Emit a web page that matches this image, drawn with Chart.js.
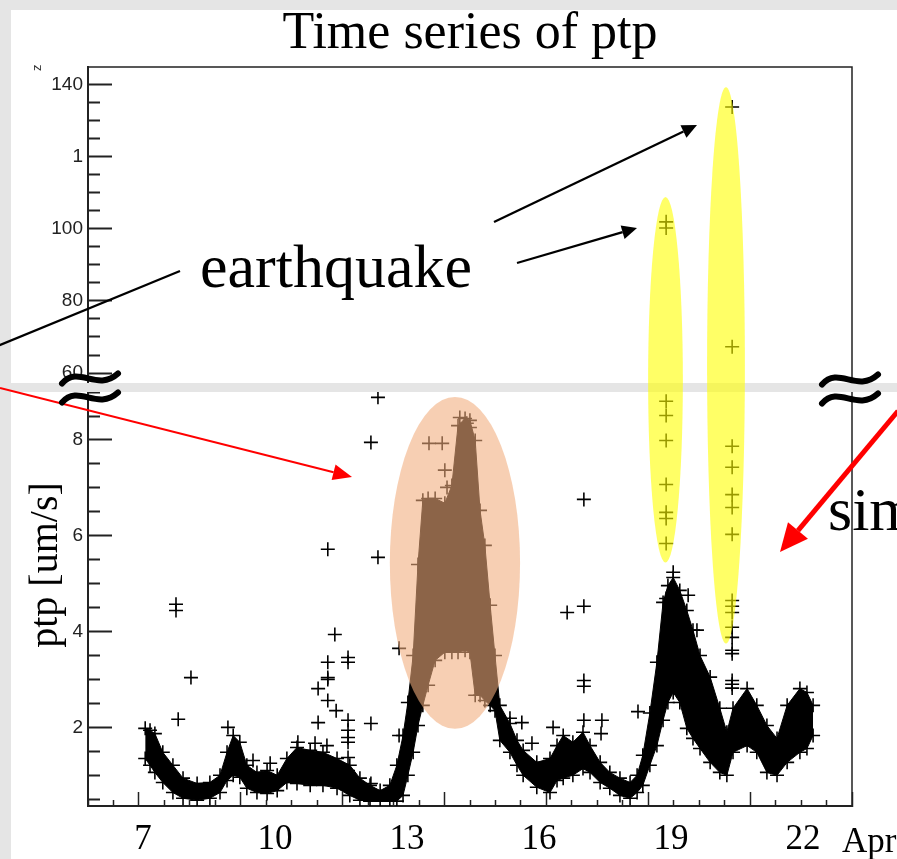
<!DOCTYPE html>
<html>
<head>
<meta charset="utf-8">
<title>Time series of ptp</title>
<script src="https://cdn.jsdelivr.net/npm/chart.js@4.4.1/dist/chart.umd.min.js"></script>
<style>
  html, body { margin: 0; padding: 0; background: #e5e5e5; }
  #wrap { position: relative; width: 897px; height: 859px; }
</style>
</head>
<body>
<div id="wrap"><canvas id="myChart" width="897" height="859"></canvas></div>
<script>
// day of April for the dense background band, with its upper and lower edge (um/s)
const bandDays = [7.05, 7.16, 7.27, 7.45, 7.68, 7.91, 8.23, 8.52, 8.75, 8.91,
  9.05, 9.20, 9.36, 9.59, 9.82, 10.05, 10.27, 10.50, 10.80, 11.09,
  11.41, 11.70, 11.93, 12.16, 12.39, 12.61, 12.77, 12.91, 13.02, 13.14,
  13.25, 13.36, 13.48, 13.64, 13.86, 14.02, 14.16, 14.32, 14.43, 14.55,
  14.66, 14.77, 14.89, 15.00, 15.11, 15.34, 15.50, 15.64, 15.95, 16.25,
  16.41, 16.55, 16.77, 17.00, 17.16, 17.39, 17.61, 17.84, 18.07, 18.23,
  18.36, 18.52, 18.68, 18.82, 18.93, 19.05, 19.20, 19.36, 19.50, 19.66,
  19.89, 20.11, 20.27, 20.41, 20.73, 20.95, 21.18, 21.41, 21.64, 21.93,
  22.09, 22.23];
const bandTop = [1.98, 1.94, 1.87, 1.48, 1.21, 0.94, 0.83, 0.85, 1.00, 1.48,
  1.83, 1.69, 1.21, 1.06, 1.10, 1.00, 1.35, 1.58, 1.52, 1.48,
  1.35, 1.21, 0.94, 0.79, 0.68, 0.79, 1.21, 1.83, 2.52, 3.50,
  5.40, 6.74, 6.78, 6.78, 6.68, 7.05, 8.30, 8.45, 8.41, 7.99,
  6.53, 5.80, 4.55, 3.50, 2.46, 2.08, 1.73, 1.52, 1.27, 1.35,
  1.62, 1.83, 1.69, 1.90, 1.62, 1.27, 1.06, 0.94, 0.85, 1.00,
  1.42, 2.30, 3.36, 4.61, 4.96, 5.13, 4.86, 4.44, 4.03, 3.50,
  3.05, 2.40, 1.90, 2.40, 2.81, 2.46, 2.04, 1.77, 2.46, 2.81,
  2.73, 2.46];
const bandBottom = [1.35, 1.21, 1.06, 0.85, 0.64, 0.52, 0.48, 0.52, 0.64, 0.89,
  1.00, 0.96, 0.73, 0.64, 0.62, 0.68, 0.85, 0.83, 0.79, 0.79,
  0.73, 0.58, 0.48, 0.46, 0.46, 0.46, 0.46, 0.58, 1.00, 1.48,
  2.04, 2.46, 2.88, 3.40, 3.57, 3.57, 3.57, 3.61, 3.57, 2.67,
  2.67, 2.56, 2.46, 2.35, 1.73, 1.48, 1.21, 1.00, 0.75, 0.64,
  0.89, 0.94, 1.00, 1.14, 1.06, 0.85, 0.73, 0.58, 0.52, 0.64,
  0.79, 1.21, 1.62, 2.15, 2.52, 2.73, 2.52, 1.98, 1.77, 1.56,
  1.27, 1.06, 1.00, 1.48, 1.62, 1.48, 1.06, 1.00, 1.27, 1.48,
  1.56, 1.83];

// isolated points above the band
const outlierDays = [7.75, 7.75, 8.09, 7.80, 8.93, 9.50, 9.89, 10.52, 10.91, 11.18,
  10.98, 10.98, 11.20, 11.20, 11.20, 11.20, 11.20, 11.36, 11.39, 11.66,
  11.66, 11.66, 11.66, 11.66, 11.66, 11.66, 11.66, 12.18, 12.34, 12.34,
  12.18, 12.18, 12.82, 12.82, 13.50, 13.80, 13.86, 13.91, 14.20, 14.36,
  14.43, 15.34, 15.61, 15.84, 16.32, 16.64, 17.02, 17.02, 17.02, 17.02,
  17.02, 17.43, 17.41, 18.25, 18.89, 19.05, 19.39, 19.59, 20.39, 20.39,
  20.39];
const outlierValues = [4.57, 4.44, 3.04, 2.17, 2.00, 1.31, 1.25, 1.69, 1.67, 1.62,
  2.81, 2.10, 5.72, 3.36, 3.00, 3.04, 2.56, 3.94, 2.35, 3.46,
  3.36, 2.15, 1.94, 1.79, 1.69, 1.37, 1.10, 7.95, 8.89, 5.55,
  2.08, 0.83, 3.65, 1.83, 7.93, 7.93, 7.37, 7.01, 8.47, 8.35,
  8.26, 2.19, 2.10, 1.67, 2.00, 4.40, 6.76, 4.53, 2.98, 2.86,
  2.15, 2.15, 1.87, 2.33, 4.69, 5.24, 4.76, 4.03, 2.98, 2.90,
  2.82];

// earthquake readings, upper (broken) part of the axis
const quakeDaysHigh = [18.89, 18.89, 20.39, 20.39];
const quakeValuesHigh = [101.9, 100.2, 133.7, 67.3];
// earthquake readings, lower part of the axis
const quakeDaysLow = [18.89, 18.89, 18.89, 18.89, 18.89, 18.89, 18.89,
  20.39, 20.39, 20.39, 20.39, 20.39, 20.39, 20.39, 20.39, 20.39, 20.39, 20.39, 20.39];
const quakeValuesLow = [8.81, 8.51, 7.99, 7.07, 6.49, 6.36, 5.84,
  7.87, 7.43, 6.86, 6.59, 6.03, 4.65, 4.53, 4.40, 4.09, 3.88, 3.61, 3.54];

// tick labels
const dayLabels = [7, 10, 13, 16, 19, 22];
const upperTickValues = [60, 80, 100, 120, 140];
const upperTickLabels = ['60', '80', '100', '1', '140'];
const lowerTickValues = [2, 4, 6, 8];
const lowerTickLabels = ['2', '4', '6', '8'];

const serif = "'Liberation Serif', 'Times New Roman', serif";
const sans = "'Liberation Sans', Arial, sans-serif";

const X_MIN = 5.75, X_MAX = 23.114;
const TOP_MIN = 56.0, TOP_MAX = 144.8;
const BOT_MIN = 0.359, BOT_MAX = 9.096;

function toPoints(xs, ys) {
  return xs.map((d, i) => ({ x: d, y: ys[i] }));
}

// ROOT style ticks: 30 small divisions, every 4th one long, plus the day labels
function xTicks() {
  const list = [];
  for (let k = 0; k <= 30; k++) {
    list.push({ value: X_MIN + k * (X_MAX - X_MIN) / 30, kind: k % 4 === 2 ? 'major' : 'minor' });
  }
  dayLabels.forEach(d => list.push({ value: d, kind: 'label' }));
  return list.sort((a, b) => a.value - b.value);
}

function yTicks(min, max, step, majorStep) {
  const list = [];
  for (let v = step; v <= max + 1e-9; v += step) {
    if (v < min) continue;
    const r = Math.round(v * 100) / 100;
    list.push({ value: r, kind: Math.abs(r / majorStep - Math.round(r / majorStep)) < 1e-6 ? 'major' : 'minor' });
  }
  return list;
}

const tickColor = c => (c.tick && c.tick.kind === 'label') ? 'rgba(0,0,0,0)' : '#222';

function arrow(ctx, x1, y1, x2, y2, color, width, head, half) {
  const a = Math.atan2(y2 - y1, x2 - x1);
  const bx = x2 - head * Math.cos(a), by = y2 - head * Math.sin(a);
  ctx.strokeStyle = color;
  ctx.fillStyle = color;
  ctx.lineWidth = width;
  ctx.beginPath();
  ctx.moveTo(x1, y1);
  ctx.lineTo(head ? bx : x2, head ? by : y2);
  ctx.stroke();
  if (head) {
    ctx.beginPath();
    ctx.moveTo(x2, y2);
    ctx.lineTo(bx + half * Math.sin(a), by - half * Math.cos(a));
    ctx.lineTo(bx - half * Math.sin(a), by + half * Math.cos(a));
    ctx.closePath();
    ctx.fill();
  }
}

function approx(ctx, x0, yc) {
  const w = 56;
  ctx.strokeStyle = '#000';
  ctx.lineWidth = 6;
  ctx.lineCap = 'round';
  [yc - 9, yc + 10].forEach(y => {
    ctx.beginPath();
    ctx.moveTo(x0, y + 5);
    ctx.bezierCurveTo(x0 + w * 0.3, y - 14, x0 + w * 0.62, y + 14, x0 + w, y - 5);
    ctx.stroke();
  });
}

const figurePlugin = {
  id: 'figure',
  beforeDraw(chart) {
    const ctx = chart.ctx;
    ctx.save();
    ctx.fillStyle = '#e5e5e5';
    ctx.fillRect(0, 0, chart.width, chart.height);
    ctx.fillStyle = '#ffffff';
    ctx.fillRect(11, 10, chart.width - 11, chart.height - 10);
    ctx.restore();
  },
  afterDraw(chart) {
    const { ctx, chartArea, scales } = chart;
    const { x, yTop, yBot } = scales;
    const brk = yTop.bottom;
    ctx.save();

    // frame: top and right edge
    ctx.strokeStyle = '#222';
    ctx.lineWidth = 1.5;
    ctx.beginPath();
    ctx.moveTo(chartArea.left, chartArea.top);
    ctx.lineTo(chartArea.right, chartArea.top);
    ctx.lineTo(chartArea.right, chartArea.bottom);
    ctx.stroke();

    // gray break between the two ranges
    ctx.fillStyle = '#e5e5e5';
    ctx.fillRect(0, brk - 4.5, chart.width, 9);

    // highlight ellipses
    const oval = (d1, d2, yt, yb, color) => {
      const xl = x.getPixelForValue(d1), xr = x.getPixelForValue(d2);
      ctx.beginPath();
      ctx.ellipse((xl + xr) / 2, (yt + yb) / 2, (xr - xl) / 2, (yb - yt) / 2, 0, 0, Math.PI * 2);
      ctx.fillStyle = color;
      ctx.fill();
    };
    oval(12.61, 15.57, yBot.getPixelForValue(8.90), yBot.getPixelForValue(1.97), 'rgba(241,172,124,0.58)');
    oval(18.48, 19.27, yTop.getPixelForValue(108.8), yBot.getPixelForValue(5.44), 'rgba(255,255,0,0.6)');
    oval(19.82, 20.68, yTop.getPixelForValue(139.2), yBot.getPixelForValue(3.75), 'rgba(255,255,0,0.6)');

    // annotation arrows
    arrow(ctx, -10, 349, 180, 271, '#000', 2.3, 0, 0);
    arrow(ctx, 494, 222, 697, 125, '#000', 2.3, 15, 7);
    arrow(ctx, 517, 263, 637, 228, '#000', 2.3, 15, 7);
    arrow(ctx, 0, 388, 352, 477, '#ff0000', 2, 19, 8);
    arrow(ctx, 898, 411, 780, 552, '#ff0000', 5, 28, 13);

    // annotation text
    ctx.fillStyle = '#000';
    ctx.textBaseline = 'alphabetic';
    ctx.textAlign = 'left';
    ctx.font = '62px ' + serif;
    ctx.fillText('earthquake', 200, 287);
    ctx.fillText('sim', 828, 530);

    ctx.font = '35px ' + serif;
    ctx.fillText('Apr', 842, 852);

    // axis title of the lower range
    ctx.save();
    ctx.translate(57, 565);
    ctx.rotate(-Math.PI / 2);
    ctx.textAlign = 'center';
    ctx.font = '40px ' + serif;
    ctx.fillText('ptp [um/s]', 0, 0);
    ctx.restore();

    ctx.save();
    ctx.translate(41, 71);
    ctx.rotate(-Math.PI / 2);
    ctx.fillStyle = '#333';
    ctx.font = '13px ' + sans;
    ctx.fillText('z', 0, 0);
    ctx.restore();

    // broken axis marks
    approx(ctx, 62, brk);
    approx(ctx, 822, brk + 1);

    ctx.restore();
  }
};

const crossStyle = {
  pointStyle: 'cross',
  pointRadius: 7,
  pointBorderWidth: 1.6,
  pointBorderColor: '#000',
  pointBackgroundColor: '#000'
};

window.onload = function () {
  const ctx = document.getElementById('myChart').getContext('2d');

  new Chart(ctx, {
    type: 'scatter',
    data: {
      datasets: [
        Object.assign({
          label: 'band low',
          data: toPoints(bandDays, bandBottom),
          xAxisID: 'x', yAxisID: 'yBot',
          showLine: true, borderColor: '#000', borderWidth: 1, fill: false
        }, crossStyle),
        Object.assign({
          label: 'band high',
          data: toPoints(bandDays, bandTop),
          xAxisID: 'x', yAxisID: 'yBot',
          showLine: true, borderColor: '#000', borderWidth: 1,
          fill: '-1', backgroundColor: '#000'
        }, crossStyle),
        Object.assign({
          label: 'outliers',
          data: toPoints(outlierDays, outlierValues),
          xAxisID: 'x', yAxisID: 'yBot', showLine: false
        }, crossStyle),
        Object.assign({
          label: 'quake low',
          data: toPoints(quakeDaysLow, quakeValuesLow),
          xAxisID: 'x', yAxisID: 'yBot', showLine: false
        }, crossStyle),
        Object.assign({
          label: 'quake high',
          data: toPoints(quakeDaysHigh, quakeValuesHigh),
          xAxisID: 'x', yAxisID: 'yTop', showLine: false
        }, crossStyle)
      ]
    },
    options: {
      responsive: false,
      devicePixelRatio: 1,
      animation: false,
      events: [],
      layout: { padding: { left: 0, right: 45, top: 0, bottom: 0 } },
      plugins: {
        legend: { display: false },
        tooltip: { enabled: false },
        title: {
          display: true,
          fullSize: false,
          text: 'Time series of ptp',
          color: '#000',
          font: { family: serif, size: 52, weight: 'normal', lineHeight: 1 },
          padding: { top: 8, bottom: 7 }
        }
      },
      scales: {
        x: {
          type: 'linear',
          position: 'bottom',
          min: X_MIN,
          max: X_MAX,
          afterBuildTicks: s => { s.ticks = xTicks(); },
          afterFit: s => { s.height = 53; },
          grid: {
            drawOnChartArea: false,
            tickLength: -14,
            tickWidth: 1.5,
            tickColor: tickColor,
            tickBorderDash: c => (c.tick && c.tick.kind === 'minor') ? [7, 100] : []
          },
          border: { color: '#222', width: 2 },
          ticks: {
            autoSkip: false,
            maxRotation: 0,
            padding: 30,
            color: '#000',
            font: { family: serif, size: 35, lineHeight: 1 },
            callback: (v, i, ticks) => ticks[i].kind === 'label' ? String(v) : ''
          }
        },
        yBot: {
          type: 'linear',
          position: 'left',
          stack: 'ptp',
          stackWeight: 418.5,
          min: BOT_MIN,
          max: BOT_MAX,
          afterBuildTicks: s => { s.ticks = yTicks(BOT_MIN, BOT_MAX, 0.5, 2); },
          afterFit: s => { s.width = 88; },
          grid: {
            drawOnChartArea: false,
            tickLength: -24,
            tickWidth: 2,
            tickColor: '#222',
            tickBorderDash: c => (c.tick && c.tick.kind === 'minor') ? [0, 12, 12, 100] : []
          },
          border: { color: '#222', width: 2 },
          ticks: {
            autoSkip: false,
            padding: 29,
            color: '#222',
            font: { family: sans, size: 19 },
            callback: (v) => {
              const i = lowerTickValues.indexOf(v);
              return i >= 0 ? lowerTickLabels[i] : '';
            }
          }
        },
        yTop: {
          type: 'linear',
          position: 'left',
          stack: 'ptp',
          stackWeight: 320.5,
          min: TOP_MIN,
          max: TOP_MAX,
          afterBuildTicks: s => { s.ticks = yTicks(TOP_MIN, TOP_MAX, 5, 20); },
          afterFit: s => { s.width = 88; },
          grid: {
            drawOnChartArea: false,
            tickLength: -24,
            tickWidth: 2,
            tickColor: '#222',
            tickBorderDash: c => (c.tick && c.tick.kind === 'minor') ? [0, 12, 12, 100] : []
          },
          border: { color: '#222', width: 2 },
          ticks: {
            autoSkip: false,
            padding: 29,
            color: '#222',
            font: { family: sans, size: 19 },
            callback: (v) => {
              const i = upperTickValues.indexOf(v);
              return i >= 0 ? upperTickLabels[i] : '';
            }
          }
        }
      }
    },
    plugins: [figurePlugin]
  });
};
</script>
</body>
</html>
